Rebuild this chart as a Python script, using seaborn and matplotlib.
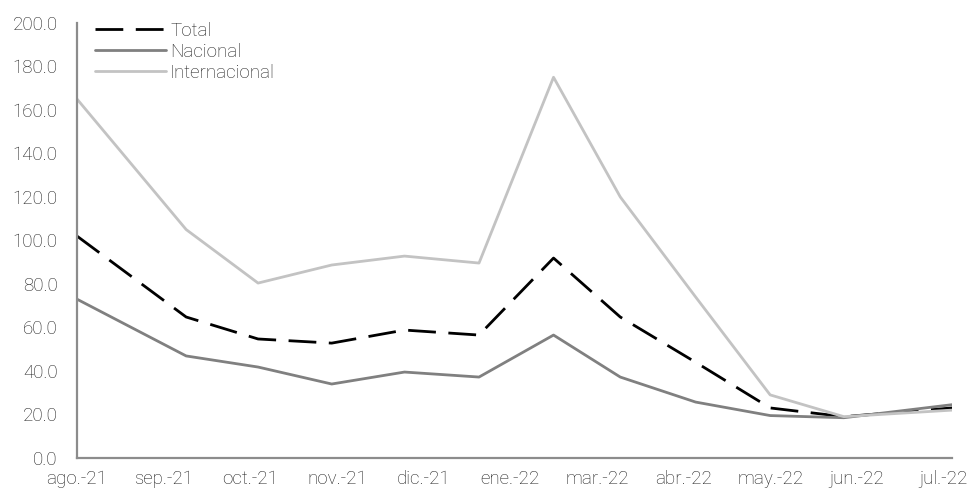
import pandas as pd
import matplotlib
matplotlib.use("Agg")
import matplotlib.pyplot as plt
import seaborn as sns

# x positions, in month-tick units (0 = ago.-21)
pos = [0.0, 1.26, 2.09, 2.94, 3.78, 4.64, 5.50, 6.27, 7.14, 8.0, 8.85, 10.1]
total = [102.0, 64.8, 54.7, 52.8, 58.8, 56.5, 91.9, 64.8, 44.0, 23.0, 19.0, 23.0]
nacional = [73.0, 46.9, 41.8, 34.0, 39.5, 37.2, 56.5, 37.2, 25.7, 19.5, 18.5, 24.5]
internacional = [165.0, 105.0, 80.4, 88.7, 92.8, 89.6, 175.0, 120.0, 74.0, 29.0, 19.0, 22.0]
tick_labels = ['ago.-21', 'sep.-21', 'oct.-21', 'nov.-21', 'dic.-21', 'ene.-22',
               'mar.-22', 'abr.-22', 'may.-22', 'jun.-22', 'jul.-22']

df = pd.DataFrame({
    'x': pos * 3,
    'valor': total + nacional + internacional,
    'serie': ['Total'] * 12 + ['Nacional'] * 12 + ['Internacional'] * 12,
})

sns.set_style('white')
plt.rcParams['font.family'] = ['Roboto', 'DejaVu Sans']
plt.rcParams['font.weight'] = 'light'

fig = plt.figure(figsize=(9.67, 4.97), dpi=100)
ax = fig.add_axes([0.0796, 0.0785, 0.905, 0.8755])

pal = {'Total': '#000000', 'Nacional': '#808080', 'Internacional': '#c3c3c3'}
dsh = {'Total': (10, 4.5), 'Nacional': '', 'Internacional': ''}
sns.lineplot(data=df, x='x', y='valor', hue='serie', style='serie',
             palette=pal, dashes=dsh, linewidth=2.0, ax=ax, sort=False)

ax.set_xlim(0, 10.1)
ax.set_ylim(0, 200)
ax.set_xticks(range(len(tick_labels)))
ax.set_xticklabels(tick_labels)
ax.set_yticks(range(0, 201, 20))
ax.set_yticklabels([f'{v:.1f}' for v in range(0, 201, 20)])
ax.set_xlabel('')
ax.set_ylabel('')

for s in ['top', 'right']:
    ax.spines[s].set_visible(False)
for s in ['left', 'bottom']:
    ax.spines[s].set_color('#8c8c8c')
    ax.spines[s].set_linewidth(1.6)
ax.tick_params(axis='both', direction='out', length=5, width=1.6, color='#8c8c8c',
               labelsize=13.5, labelcolor='#1e1e1e')
ax.tick_params(axis='y', pad=9)
ax.tick_params(axis='x', pad=4)

leg = ax.legend(loc='upper left', bbox_to_anchor=(0.012, 1.02), frameon=False,
                fontsize=13.5, handlelength=3.8, handletextpad=0.2, labelspacing=0.17,
                borderaxespad=0)
for t in leg.get_texts():
    t.set_color('#1e1e1e')

fig.savefig('out.png', dpi=100)
